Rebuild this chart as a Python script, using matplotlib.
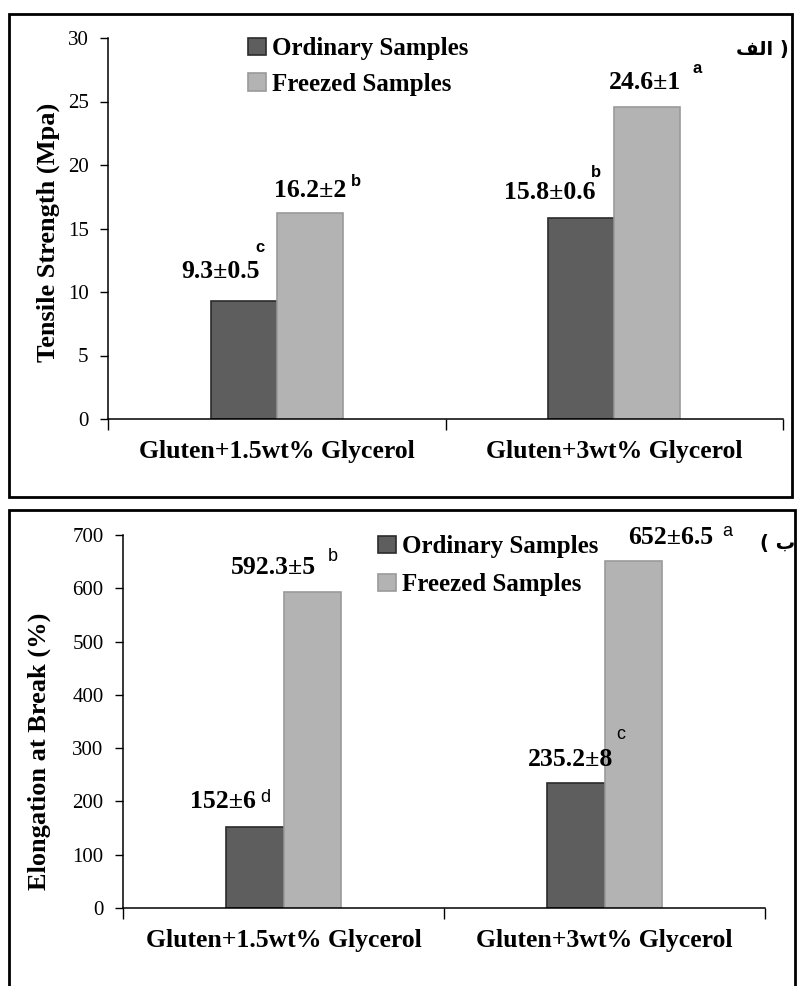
import numpy as np
import matplotlib.pyplot as plt
from matplotlib.patches import Rectangle

plt.rcParams['font.family'] = ['Liberation Serif', 'DejaVu Sans']

# datos
categorias = ['Gluten+1.5wt% Glycerol', 'Gluten+3wt% Glycerol']
series = ['Ordinary Samples', 'Freezed Samples']

tensile_ord = [9.3, 15.8]
tensile_frz = [16.2, 24.6]
tensile_ord_txt = ['9.3±0.5', '15.8±0.6']
tensile_frz_txt = ['16.2±2', '24.6±1']
tensile_ord_let = ['c', 'b']
tensile_frz_let = ['b', 'a']

elong_ord = [152, 235.2]
elong_frz = [592.3, 652]
elong_ord_txt = ['152±6', '235.2±8']
elong_frz_txt = ['592.3±5', '652±6.5']
elong_ord_let = ['d', 'c']
elong_frz_let = ['b', 'a']

W, H = 797, 986
fig = plt.figure(figsize=(W / 100, H / 100), dpi=100)


def ax_px(left, top, right, bottom):
    return fig.add_axes([left / W, 1 - bottom / H, (right - left) / W, (bottom - top) / H])


def fx(px):
    return px / W


def fy(py):
    return 1 - py / H


dark, dark_edge = '#5e5e5e', '#2b2b2b'
light, light_edge = '#b3b3b3', '#9a9a9a'

# marcos de los dos paneles
fig.add_artist(Rectangle((fx(9), fy(497)), fx(792) - fx(9), fy(14) - fy(497),
                         transform=fig.transFigure, fill=False, lw=2, ec='black'))
fig.add_artist(Rectangle((fx(9), fy(1000)), fx(795) - fx(9), fy(510) - fy(1000),
                         transform=fig.transFigure, fill=False, lw=2, ec='black',
                         clip_on=False))


def panel(ax, ords, frzs, w, off, ylim, yticks, ylabel):
    x = np.arange(len(categorias))
    ax.bar(x - off, ords, w, color=dark, edgecolor=dark_edge, lw=1.2, label=series[0])
    ax.bar(x + off, frzs, w, color=light, edgecolor=light_edge, lw=1.2, label=series[1])
    ax.set_xlim(-0.5, 1.5)
    ax.set_ylim(*ylim)
    ax.set_yticks(yticks)
    ax.set_xticks(x)
    ax.set_xticklabels(categorias, fontsize=18.5, fontweight='bold')
    ax.set_xticks([-0.5, 0.5, 1.5], minor=True)
    ax.tick_params(axis='x', which='major', length=0, pad=15)
    ax.tick_params(axis='x', which='minor', length=8, width=1, direction='out')
    ax.tick_params(axis='y', length=6, width=1, direction='out', labelsize=15, pad=8)
    for s in ['top', 'right']:
        ax.spines[s].set_visible(False)
    for s in ['left', 'bottom']:
        ax.spines[s].set_linewidth(1.1)
    ax.set_ylabel(ylabel, fontsize=19, fontweight='bold')
    return x


# panel superior
ax1 = ax_px(108, 38, 783, 419)
x = panel(ax1, tensile_ord, tensile_frz, 0.195, 0.098, (0, 30), range(0, 31, 5),
          'Tensile Strength (Mpa)')
ax1.yaxis.set_label_coords(-0.071, 0.49)
num_off_ord = [(-0.068, 2.3), (-0.093, 2.0)]
let_off_ord = [(0.047, 4.2), (0.043, 3.6)]
num_off_frz = [(0.0, 1.8), (-0.006, 1.9)]
let_off_frz = [(0.138, 2.5), (0.148, 3.0)]
for i in x:
    xo, xf = i - 0.098, i + 0.098
    ax1.text(xo + num_off_ord[i][0], tensile_ord[i] + num_off_ord[i][1], tensile_ord_txt[i],
             ha='center', va='center', fontsize=18.5, fontweight='bold')
    ax1.text(xo + let_off_ord[i][0], tensile_ord[i] + let_off_ord[i][1], tensile_ord_let[i],
             ha='center', va='center', fontsize=12, fontweight='bold', family='Liberation Sans')
    ax1.text(xf + num_off_frz[i][0], tensile_frz[i] + num_off_frz[i][1], tensile_frz_txt[i],
             ha='center', va='center', fontsize=18.5, fontweight='bold')
    ax1.text(xf + let_off_frz[i][0], tensile_frz[i] + let_off_frz[i][1], tensile_frz_let[i],
             ha='center', va='center', fontsize=12, fontweight='bold', family='Liberation Sans')

ax1.legend(loc='upper left', bbox_to_anchor=(fx(238), fy(27)), bbox_transform=fig.transFigure,
           frameon=False, prop={'size': 18, 'weight': 'bold'}, handlelength=0.7,
           handleheight=0.7, handletextpad=0.25, labelspacing=0.5, borderaxespad=0)

# panel inferior
ax2 = ax_px(123, 535, 765, 908)
x = panel(ax2, elong_ord, elong_frz, 0.18, 0.09, (0, 700), range(0, 701, 100),
          'Elongation at Break (%)')
ax2.yaxis.set_label_coords(-0.112, 0.42)
num_off_ord = [(-0.098, 47), (-0.017, 43)]
let_off_ord = [(0.032, 56), (0.142, 91)]
num_off_frz = [(-0.12, 46), (0.117, 44)]
let_off_frz = [(0.064, 67), (0.292, 54)]
for i in x:
    xo, xf = i - 0.09, i + 0.09
    ax2.text(xo + num_off_ord[i][0], elong_ord[i] + num_off_ord[i][1], elong_ord_txt[i],
             ha='center', va='center', fontsize=18.5, fontweight='bold')
    ax2.text(xo + let_off_ord[i][0], elong_ord[i] + let_off_ord[i][1], elong_ord_let[i],
             ha='center', va='center', fontsize=13, family='Liberation Sans')
    ax2.text(xf + num_off_frz[i][0], elong_frz[i] + num_off_frz[i][1], elong_frz_txt[i],
             ha='center', va='center', fontsize=18.5, fontweight='bold')
    ax2.text(xf + let_off_frz[i][0], elong_frz[i] + let_off_frz[i][1], elong_frz_let[i],
             ha='center', va='center', fontsize=13, family='Liberation Sans')

ax2.legend(loc='upper left', bbox_to_anchor=(fx(368), fy(525)), bbox_transform=fig.transFigure,
           frameon=False, prop={'size': 18, 'weight': 'bold'}, handlelength=0.7,
           handleheight=0.7, handletextpad=0.25, labelspacing=0.6, borderaxespad=0)

# etiquetas en persa (formas de presentación, orden visual)
fig.text(fx(789), fy(49), '\uFED2\uFEDF\uFE8D )', ha='right', va='center', fontsize=14,
         fontweight='bold', family=['DejaVu Sans'])
fig.text(fx(795), fy(544), '( \uFE8F', ha='right', va='center', fontsize=14,
         fontweight='bold', family=['DejaVu Sans'])

plt.savefig('out.png', dpi=100)
